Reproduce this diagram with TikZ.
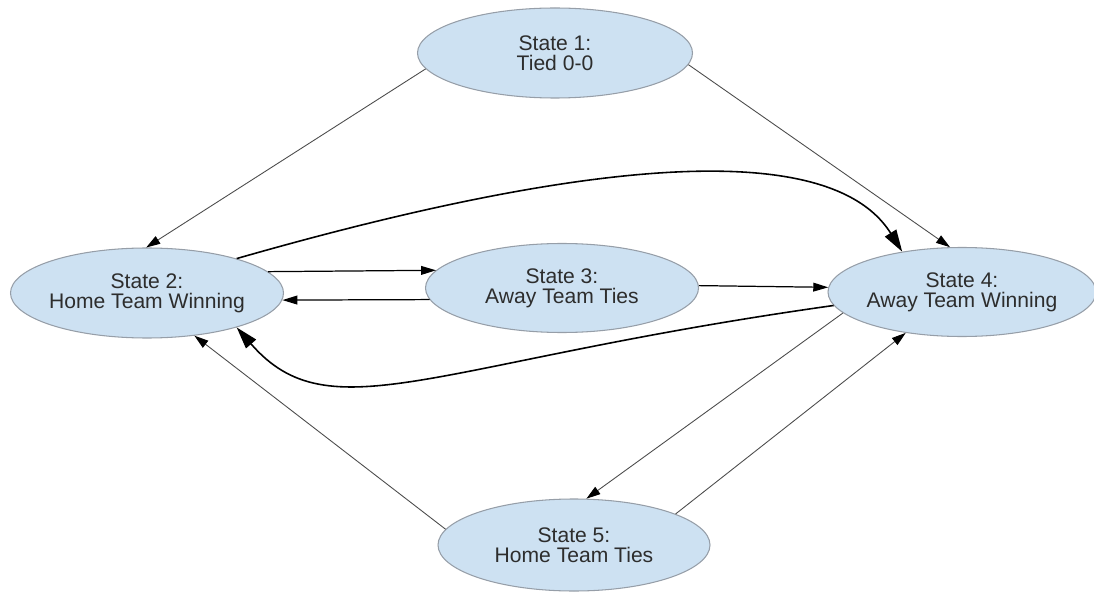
\documentclass[tikz,border=0pt]{standalone}
\usepackage{fontspec}
\setmainfont{Liberation Sans}
\usetikzlibrary{arrows.meta,shapes.geometric}
\definecolor{statefill}{RGB}{205,225,242}
\definecolor{stateline}{RGB}{150,158,168}
\definecolor{textgray}{RGB}{45,45,45}
\definecolor{edgegray}{RGB}{75,75,75}
\tikzset{
  state/.style = {ellipse,draw=stateline,fill=statefill,line width=0.6,inner xsep=-4pt,inner ysep=0pt,
    minimum width=5.46cm,minimum height=1.8cm,align=center,text=textgray,font=\fontsize{12}{11.5}\selectfont},
  %
  edge/.style = {-{Triangle[length=8pt,width=5pt,color=black]},line width=0.5,draw=edgegray},
  flat edge/.style = {-{Triangle[length=8.5pt,width=5pt]},line width=0.7,draw=black},
  curved edge/.style = {-{Triangle[length=12.5pt,width=7.5pt]},line width=0.9,draw=black},
}

\begin{document}
\begin{tikzpicture}
    \useasboundingbox (0,0) rectangle (21.88,-11.84);

    \node[state,minimum width=5.5cm] at (11.10,-1.06) (s1) {State 1:\\Tied 0-0};
    \node[state] at (2.94,-5.86) (s2) {State 2:\\Home Team Winning};
    \node[state,minimum height=1.78cm] at (11.24,-5.76) (s3) {State 3:\\Away Team Ties};
    \node[state,minimum width=5.36cm,minimum height=1.78cm] at (19.24,-5.84) (s4) {State 4:\\Away Team Winning};
    \node[state,minimum width=5.44cm,minimum height=1.84cm] at (11.48,-10.90) (s5) {State 5:\\Home Team Ties};

    \draw[edge] (s1.187.5) -- (s2.91);
    \draw[edge] (s1.355) -- (s4.105);

    \draw[curved edge] (s2.21.6) to[out=16,in=122,out looseness=1.05,in looseness=0.6] (s4.146);

    \draw[flat edge] (s2.10.2) -- (s3.172);
    \draw[flat edge] (s3.185) -- (s2.357);
    \draw[flat edge] (s3.1.3) -- (s4.178);

    \draw[curved edge] (s4.186.4) to[out=188,in=311,out looseness=1.74,in looseness=0.61] (s2.339.8);

    \draw[edge] (s4.190.5) -- (s5.75);
    \draw[edge] (s5.17.4) -- (s4.216.7);
    \draw[edge] (s5.173) -- (s2.318.6);

\end{tikzpicture}
\end{document}
